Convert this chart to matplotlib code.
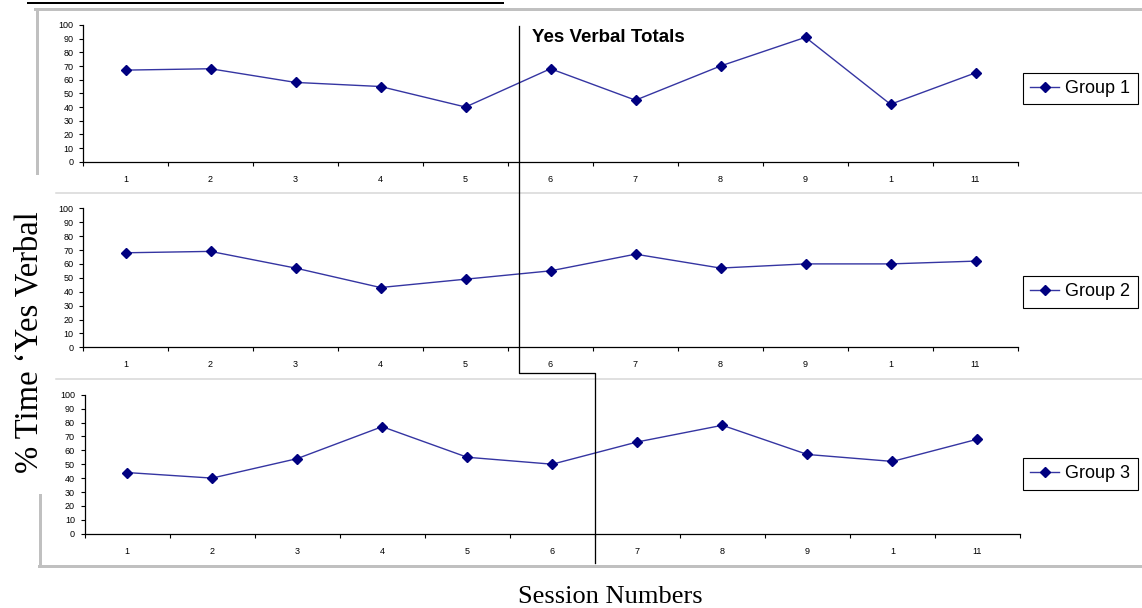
import matplotlib
matplotlib.use("Agg")
import matplotlib.pyplot as plt
from matplotlib.lines import Line2D
import numpy as np

# ---- data ----
session_labels = ["1", "2", "3", "4", "5", "6", "7", "8", "9", "1", "11"]
group1 = [67, 68, 58, 55, 40, 68, 45, 70, 91, 42, 65]
group2 = [68, 69, 57, 43, 49, 55, 67, 57, 60, 60, 62]
group3 = [44, 40, 54, 77, 55, 50, 66, 78, 57, 52, 68]
series_names = ["Group 1", "Group 2", "Group 3"]
y_ticks = list(range(0, 101, 10))

W, H = 1142, 608
fig = plt.figure(figsize=(W / 100, H / 100), dpi=100)
fig.patch.set_facecolor("white")


def fx(px):
    return px / W


def fy(py):
    return 1 - py / H


def px2pt(p):
    return p * 72 / 100


# axes boxes in pixels: (left, top, right, bottom)
boxes = [(83, 25, 1018, 161.7), (83, 208.3, 1018, 347.3), (84.5, 394.7, 1020, 533.7)]
legend_centers = [88.5, 292, 474]
all_series = [group1, group2, group3]

LINE_C = "#3535a2"
MARK_C = "#000080"

for (l, t, r, b), vals, name, lc in zip(boxes, all_series, series_names, legend_centers):
    ax = fig.add_axes([fx(l), fy(b), (r - l) / W, (b - t) / H])
    x = np.arange(len(vals))
    ax.plot(x, vals, color=LINE_C, lw=1.0, marker="D", markersize=5,
            markerfacecolor=MARK_C, markeredgecolor=MARK_C, label=name)
    ax.set_xlim(-0.5, len(vals) - 0.5)
    ax.set_ylim(0, 100)
    for s in ["top", "right"]:
        ax.spines[s].set_visible(False)
    for s in ["left", "bottom"]:
        ax.spines[s].set_color("black")
        ax.spines[s].set_linewidth(0.9)
    ax.set_yticks(y_ticks)
    ax.set_yticklabels([str(v) for v in y_ticks], fontsize=6.5, family="Liberation Sans")
    ax.tick_params(axis="y", direction="out", length=px2pt(4), width=0.8, pad=4)
    ax.set_xticks(x)
    ax.set_xticklabels(session_labels, fontsize=6.5, family="Liberation Sans")
    ax.tick_params(axis="x", which="major", length=0, pad=9.5)
    ax.set_xticks(np.arange(-0.5, len(vals), 1), minor=True)
    ax.tick_params(axis="x", which="minor", direction="out", length=px2pt(3.5), width=0.8)
    ax.patch.set_alpha(0)
    leg = ax.legend(loc="center left", bbox_to_anchor=(fx(1023), fy(lc)),
                    bbox_transform=fig.transFigure, frameon=True, fancybox=False,
                    edgecolor="black", borderaxespad=0, borderpad=0.4,
                    handlelength=1.6, handletextpad=0.35,
                    prop={"family": "Liberation Sans", "size": 13})
    leg.get_frame().set_linewidth(0.8)
    leg.get_frame().set_facecolor("white")
    leg.get_frame().set_alpha(1)


def fline(xs, ys, **kw):
    fig.add_artist(Line2D([fx(v) for v in xs], [fy(v) for v in ys],
                          transform=fig.transFigure, **kw))


GRAY = "#c0c0c0"
LGRAY = "#d6d6d6"
# frame
fline([35, 1142], [9, 9], color=GRAY, lw=px2pt(3))
fline([37, 37], [9, 173], color=GRAY, lw=px2pt(3))
fline([40, 40], [495, 566], color=GRAY, lw=px2pt(3))
fline([39, 1142], [566, 566], color=GRAY, lw=px2pt(3))
fline([56, 1142], [192.5, 192.5], color=LGRAY, lw=px2pt(1.5))
fline([56, 1142], [379, 379], color=LGRAY, lw=px2pt(1.5))
# top black rule from document
fline([28, 503], [3, 3], color="black", lw=px2pt(2))
# phase change line
fline([519, 519, 595, 595], [26, 373, 373, 563], color="black", lw=px2pt(1.3))

fig.text(fx(532), fy(41.5), "Yes Verbal Totals", fontsize=13.5, fontweight="bold",
         family="Liberation Sans", ha="left", va="baseline")
fig.text(fx(610.5), fy(602.7), "Session Numbers", fontsize=19,
         family="Liberation Serif", ha="center", va="baseline")
fig.text(fx(29), fy(342), "% Time \u2018Yes Verbal", fontsize=23.5,
         family="Liberation Serif", rotation=90, ha="center", va="center")

fig.savefig("out.png", dpi=100, facecolor="white")
